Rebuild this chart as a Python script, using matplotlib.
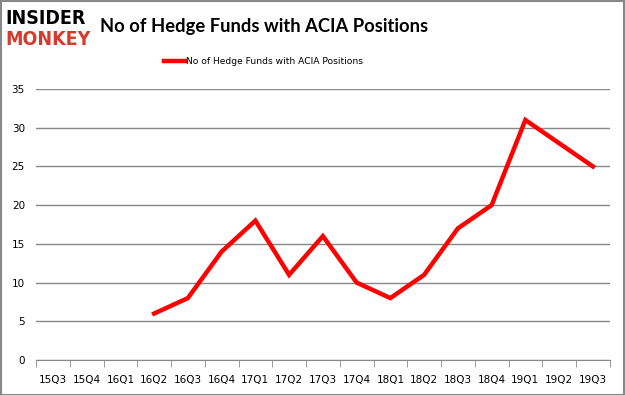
import matplotlib
matplotlib.use('Agg')
import matplotlib.pyplot as plt
import numpy as np

quarters = ['15Q3', '15Q4', '16Q1', '16Q2', '16Q3', '16Q4', '17Q1', '17Q2', '17Q3',
            '17Q4', '18Q1', '18Q2', '18Q3', '18Q4', '19Q1', '19Q2', '19Q3']
funds = [np.nan, np.nan, np.nan, 6, 8, 14, 18, 11, 16, 10, 8, 11, 17, 20, 31, 28, 25]
series_name = 'No of Hedge Funds with ACIA Positions'

fig = plt.figure(figsize=(6.25, 3.95), dpi=100)
ax = fig.add_axes([0.0576, 0.0886, 0.918, 0.686])

x = np.arange(len(quarters))
line, = ax.plot(x, funds, color='#ff0000', lw=3.2, solid_joinstyle='miter')

ax.set_xlim(-0.5, len(quarters) - 0.5)
ax.set_ylim(0, 35)
ax.set_yticks(np.arange(0, 36, 5))
ax.set_xticks(x)
ax.set_xticklabels(quarters)
ax.set_xticks(np.arange(-0.5, len(quarters), 1), minor=True)
ax.tick_params(axis='x', which='major', length=0, pad=11, labelsize=7.5)
ax.tick_params(axis='x', which='minor', length=5, color='#888888', direction='out')
ax.tick_params(axis='y', length=0, pad=8, labelsize=7.5)
ax.yaxis.grid(True, color='#888888', lw=1)
ax.set_axisbelow(True)
for s in ['top', 'right', 'left']:
    ax.spines[s].set_visible(False)
ax.spines['bottom'].set_color('#888888')

fig.text(0.16, 0.932, 'No of Hedge Funds with ACIA Positions', fontsize=13.2,
         fontweight='bold', family='Lato', va='center')
# logo, roughly
fig.text(0.008, 0.952, 'INSIDER', fontsize=14, fontweight='heavy', color='black',
         va='center', family='DejaVu Sans', fontstretch='condensed')
fig.text(0.008, 0.899, 'MONKEY', fontsize=14, fontweight='heavy', color='#d63a2c',
         va='center', family='DejaVu Sans', fontstretch='condensed')

fig.legend([line], [series_name], loc='center', bbox_to_anchor=(0.421, 0.845),
           frameon=False, fontsize=6.6, handlelength=2.3, handletextpad=0.1)

border = plt.Rectangle((0.001, 0.001), 0.997, 0.997, transform=fig.transFigure,
                       fill=False, ec='#888888', lw=1.5)
fig.patches.append(border)

fig.savefig('out.png', dpi=100)
